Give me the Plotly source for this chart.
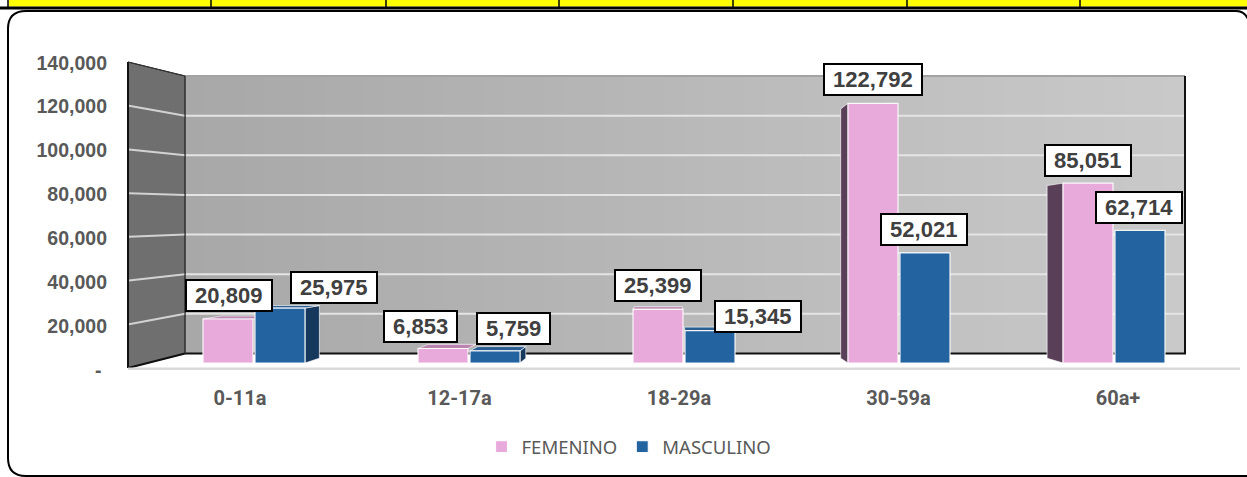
import plotly.graph_objects as go

# ---------------- data ----------------
categories = ["0-11a", "12-17a", "18-29a", "30-59a", "60a+"]
series_names = ["FEMENINO", "MASCULINO"]
femenino = [20809, 6853, 25399, 122792, 85051]
masculino = [25975, 5759, 15345, 52021, 62714]
y_tick_values = [0, 20000, 40000, 60000, 80000, 100000, 120000, 140000]
y_tick_labels = ["-\u00a0", "20,000", "40,000", "60,000", "80,000", "100,000", "120,000", "140,000"]

# label box offsets (pixels) relative to the top-centre of each bar
fem_label_shift = [(0.5, 23), (-23, 22.5), (0, 23.3), (-0.5, 23.8), (-0.5, 23)]
mas_label_shift = [(53.5, 20.6), (18.5, 22.8), (47.5, 14.5), (-1, 23.5), (-1.5, 23)]

# ---------------- geometry / style ----------------
W, H = 1247, 477
GROUP0_PX, GROUP_STEP_PX = 254, 215          # bar group centres
BAR_ZERO_PY, BAR_K = 363, 0.002115           # bar value scale (px per unit)
LAB_ZERO_PY, LAB_K = 370, 0.002195           # y tick label scale
BACK_ZERO_PY, BACK_TOP_PY = 353.5, 76        # back wall
BACK_K = (BACK_ZERO_PY - BACK_TOP_PY) / 140000
FRONT_ZERO_PY, FRONT_TOP_PY = 368, 62        # side wall front edge
FRONT_K = (FRONT_ZERO_PY - FRONT_TOP_PY) / 140000
CAT0_PX, CAT_STEP_PX = 240, 219.5            # category labels
SIDE_X0, BACK_X0, BACK_X1 = 128, 185, 1185

PINK, BLUE = "#e8a9db", "#2363a0"
PINK_TOP, BLUE_TOP = "#b985ae", "#2b5d90"
PINK_SIDE, BLUE_SIDE = "#5a3f58", "#16385d"
TXT = "#595959"

bar_w = 50 / GROUP_STEP_PX
pink_off = -51 / GROUP_STEP_PX
blue_off = 1 / GROUP_STEP_PX


def pxf(x):
    return x / W


def pyf(y):
    return 1 - y / H


shapes = []

# top yellow table strip
shapes.append(dict(type="rect", xref="paper", yref="paper", x0=pxf(9), x1=pxf(1250), y0=pyf(6.5), y1=pyf(-2),
                   fillcolor="#ffff00", line=dict(width=0), layer="below"))
shapes.append(dict(type="line", xref="paper", yref="paper", x0=pxf(0), x1=pxf(1250), y0=pyf(8), y1=pyf(8),
                   line=dict(color="black", width=3), layer="below"))
for xd in [8, 211, 386, 559, 733, 907, 1080]:
    shapes.append(dict(type="line", xref="paper", yref="paper", x0=pxf(xd), x1=pxf(xd), y0=pyf(0), y1=pyf(8),
                       line=dict(color="black", width=1.5), layer="below"))

# rounded chart frame (right side runs off the canvas)
r = 18
fx0, fy0, fx1, fy1 = 8, 11, 1262, 476
shapes.append(dict(type="line", xref="paper", yref="paper", x0=pxf(fx0 + r), x1=pxf(1236), y0=pyf(fy0), y1=pyf(fy0),
                   line=dict(color="black", width=2), layer="below"))
shapes.append(dict(type="path", xref="paper", yref="paper",
                   path=f"M {pxf(1236)},{pyf(fy0)} Q {pxf(1247)},{pyf(fy0)} {pxf(1250)},{pyf(fy0 + 14)}",
                   line=dict(color="black", width=2), layer="below"))
shapes.append(dict(type="path", xref="paper", yref="paper",
                   path=(f"M {pxf(fx0 + r)},{pyf(fy0)} Q {pxf(fx0)},{pyf(fy0)} {pxf(fx0)},{pyf(fy0 + r)} "
                         f"L {pxf(fx0)},{pyf(fy1 - r)} Q {pxf(fx0)},{pyf(fy1)} {pxf(fx0 + r)},{pyf(fy1)} "
                         f"L {pxf(1250)},{pyf(fy1)}"),
                   line=dict(color="black", width=2), layer="below"))

# back wall with horizontal gradient
n_strips = 50
c0, c1 = (168, 168, 168), (201, 201, 201)
for k in range(n_strips):
    t = k / (n_strips - 1)
    col = tuple(round(c0[j] + (c1[j] - c0[j]) * t) for j in range(3))
    xa = BACK_X0 + (BACK_X1 - BACK_X0) * k / n_strips
    xb = BACK_X0 + (BACK_X1 - BACK_X0) * (k + 1) / n_strips + 0.6
    shapes.append(dict(type="rect", xref="paper", yref="paper", x0=pxf(xa), x1=pxf(min(xb, BACK_X1)),
                       y0=pyf(BACK_ZERO_PY), y1=pyf(BACK_TOP_PY),
                       fillcolor=f"rgb{col}", line=dict(width=0), layer="below"))

# back wall gridlines (through the back-wall axis y3)
for v in y_tick_values[1:-1]:
    shapes.append(dict(type="line", xref="paper", yref="y3", x0=pxf(BACK_X0), x1=pxf(BACK_X1), y0=v, y1=v,
                       line=dict(color="#e4e4e4", width=2), layer="below"))
shapes.append(dict(type="line", xref="paper", yref="y3", x0=pxf(BACK_X0), x1=pxf(BACK_X1),
                   y0=y_tick_values[-1], y1=y_tick_values[-1], line=dict(color="#a3a3a3", width=2), layer="below"))
shapes.append(dict(type="line", xref="paper", yref="y3", x0=pxf(BACK_X0), x1=pxf(BACK_X1 + 1), y0=0, y1=0,
                   line=dict(color="#111111", width=2), layer="below"))
shapes.append(dict(type="line", xref="paper", yref="y3", x0=pxf(BACK_X1), x1=pxf(BACK_X1),
                   y0=0, y1=y_tick_values[-1], line=dict(color="#111111", width=2), layer="below"))

# side wall
side_path = (f"M {pxf(SIDE_X0)},{pyf(FRONT_TOP_PY)} L {pxf(BACK_X0)},{pyf(BACK_TOP_PY)} "
             f"L {pxf(BACK_X0)},{pyf(BACK_ZERO_PY)} L {pxf(SIDE_X0)},{pyf(FRONT_ZERO_PY)} Z")
shapes.append(dict(type="path", xref="paper", yref="paper", path=side_path,
                   fillcolor="#6f6f6f", line=dict(color="#222222", width=1), layer="below"))
for v in y_tick_values[1:-1]:
    ya = FRONT_ZERO_PY - FRONT_K * v
    yb = BACK_ZERO_PY - BACK_K * v
    shapes.append(dict(type="line", xref="paper", yref="paper", x0=pxf(SIDE_X0 + 1), x1=pxf(BACK_X0),
                       y0=pyf(ya), y1=pyf(yb), line=dict(color="#d2d2d2", width=2), layer="below"))
# side wall edges
shapes.append(dict(type="line", xref="paper", yref="paper", x0=pxf(SIDE_X0), x1=pxf(SIDE_X0),
                   y0=pyf(FRONT_TOP_PY), y1=pyf(FRONT_ZERO_PY), line=dict(color="#111111", width=2), layer="below"))
shapes.append(dict(type="line", xref="paper", yref="paper", x0=pxf(SIDE_X0), x1=pxf(BACK_X0),
                   y0=pyf(FRONT_ZERO_PY), y1=pyf(BACK_ZERO_PY), line=dict(color="#111111", width=2), layer="below"))
shapes.append(dict(type="line", xref="paper", yref="paper", x0=pxf(SIDE_X0), x1=pxf(BACK_X0),
                   y0=pyf(FRONT_TOP_PY), y1=pyf(BACK_TOP_PY), line=dict(color="#333333", width=1.2), layer="below"))
shapes.append(dict(type="line", xref="paper", yref="paper", x0=pxf(BACK_X0), x1=pxf(BACK_X0),
                   y0=pyf(BACK_TOP_PY), y1=pyf(BACK_ZERO_PY), line=dict(color="#3a3a3a", width=1.2), layer="below"))
# floor front line
shapes.append(dict(type="line", xref="paper", yref="paper", x0=pxf(SIDE_X0), x1=pxf(1240),
                   y0=pyf(FRONT_ZERO_PY + 0.8), y1=pyf(FRONT_ZERO_PY + 0.8),
                   line=dict(color="#d9d9d9", width=2.5), layer="below"))

# 3D faces of the bars (perspective towards a vanishing point)
VX_PX, VY_PX, F = 665, 245, 0.04
vx_u = (VX_PX - GROUP0_PX) / GROUP_STEP_PX
vy_v = (BAR_ZERO_PY - VY_PX) / BAR_K
edge = dict(color="rgba(255,255,255,0.65)", width=1)


def faces(vals, off, top_col, side_col, allow_left, allow_right):
    out = []
    for i, v in enumerate(vals):
        xl = i + off
        xr = xl + bar_w
        xl2 = xl + (vx_u - xl) * F
        xr2 = xr + (vx_u - xr) * F
        v2 = v + (vy_v - v) * F
        b2 = vy_v * F
        if allow_right and xr2 > xr:
            out.append(dict(type="path", xref="x", yref="y", layer="below", fillcolor=side_col, line=edge,
                            path=f"M {xr},0 L {xr},{v} L {xr2},{v2} L {xr2},{b2} Z"))
        if allow_left and xl2 < xl:
            out.append(dict(type="path", xref="x", yref="y", layer="below", fillcolor=side_col, line=edge,
                            path=f"M {xl},0 L {xl},{v} L {xl2},{v2} L {xl2},{b2} Z"))
        if v2 > v:
            out.append(dict(type="path", xref="x", yref="y", layer="below", fillcolor=top_col, line=edge,
                            path=f"M {xl},{v} L {xr},{v} L {xr2},{v2} L {xl2},{v2} Z"))
    return out


shapes += faces(femenino, pink_off, PINK_TOP, PINK_SIDE, True, False)
shapes += faces(masculino, blue_off, BLUE_TOP, BLUE_SIDE, False, True)

# ---------------- traces ----------------
fig = go.Figure()
fig.add_trace(go.Bar(x=list(range(len(categories))), y=femenino, name=series_names[0],
                     width=bar_w, offset=pink_off, marker=dict(color=PINK, line=dict(color="rgba(255,255,255,0.9)", width=1.2)),
                     hoverinfo="skip"))
fig.add_trace(go.Bar(x=list(range(len(categories))), y=masculino, name=series_names[1],
                     width=bar_w, offset=blue_off, marker=dict(color=BLUE, line=dict(color="rgba(255,255,255,0.9)", width=1.2)),
                     hoverinfo="skip"))
# helper traces so the overlaying axes exist
for xa, ya in [("x", "y2"), ("x", "y3"), ("x2", "y")]:
    fig.add_trace(go.Scatter(x=[0], y=[0], xaxis=xa, yaxis=ya, mode="markers", marker=dict(opacity=0),
                             showlegend=False, hoverinfo="skip"))

# ---------------- data labels ----------------
annotations = []
for vals, off, shifts in [(femenino, pink_off, fem_label_shift), (masculino, blue_off, mas_label_shift)]:
    for i, v in enumerate(vals):
        annotations.append(dict(x=i + off + bar_w / 2, y=v, xref="x", yref="y", text=f"\u00a0{v:,}\u00a0",
                                showarrow=False, xanchor="center", yanchor="middle",
                                xshift=shifts[i][0], yshift=shifts[i][1],
                                font=dict(family="Liberation Sans", size=22, color="#404040", weight="bold"),
                                bgcolor="white", bordercolor="black", borderwidth=2, borderpad=2))

fig.update_layout(
    width=W, height=H, autosize=False,
    margin=dict(l=0, r=0, t=0, b=0),
    paper_bgcolor="white", plot_bgcolor="rgba(0,0,0,0)",
    barmode="overlay",
    shapes=shapes, annotations=annotations,
    showlegend=True,
    legend=dict(orientation="h", x=pxf(629), xanchor="center", y=pyf(447), yanchor="middle",
                font=dict(family="Noto Sans", size=18.5, color=TXT), bgcolor="rgba(0,0,0,0)",
                itemwidth=30, traceorder="normal"),
    xaxis=dict(visible=False, domain=[0, 1], fixedrange=True,
               range=[-GROUP0_PX / GROUP_STEP_PX, (W - GROUP0_PX) / GROUP_STEP_PX]),
    yaxis=dict(visible=False, domain=[0, 1], fixedrange=True,
               range=[(BAR_ZERO_PY - H) / BAR_K, BAR_ZERO_PY / BAR_K]),
    xaxis2=dict(overlaying="x", anchor="free", position=pyf(384), side="bottom",
                range=[-CAT0_PX / CAT_STEP_PX, (W - CAT0_PX) / CAT_STEP_PX],
                tickmode="array", tickvals=list(range(len(categories))), ticktext=categories,
                showgrid=False, zeroline=False, showline=False, ticks="",
                tickfont=dict(family="Roboto", size=20, color=TXT, weight="bold")),
    yaxis2=dict(overlaying="y", anchor="free", position=pxf(107), side="left",
                range=[(LAB_ZERO_PY - H) / LAB_K, LAB_ZERO_PY / LAB_K],
                tickmode="array", tickvals=y_tick_values, ticktext=y_tick_labels,
                showgrid=False, zeroline=False, showline=False, ticks="",
                tickfont=dict(family="Liberation Sans", size=19.5, color=TXT, weight="bold")),
    yaxis3=dict(overlaying="y", visible=False,
                range=[(BACK_ZERO_PY - H) / BACK_K, BACK_ZERO_PY / BACK_K]),
)

fig.write_html("out.html", config={"displayModeBar": False},
               post_script="document.body.style.margin='0';document.body.style.overflow='hidden';")
